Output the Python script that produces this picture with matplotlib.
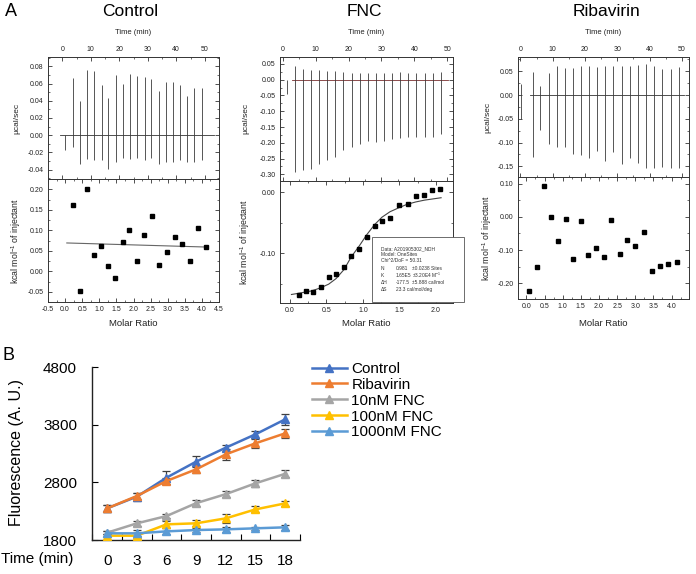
import numpy as np
import matplotlib
matplotlib.use("Agg")
import matplotlib.pyplot as plt
from matplotlib.ticker import AutoMinorLocator, MultipleLocator, FormatStrFormatter
from matplotlib.patches import Rectangle

plt.rcParams['font.family'] = ['Liberation Sans', 'DejaVu Sans']
plt.rcParams['axes.unicode_minus'] = False
plt.rcParams['mathtext.fontset'] = 'custom'
plt.rcParams['mathtext.rm'] = 'Liberation Sans'

# ---- panel A: raw ITC injections (time, peak up, peak down) ----
ctrl_t = [1.0, 3.7, 6.2, 8.8, 11.2, 13.8, 16.2, 18.8, 21.2, 23.8, 26.3, 28.9, 31.3, 33.9, 36.3, 38.8, 41.4, 43.8, 46.4, 48.9]
ctrl_up = [0.0, 0.067, 0.040, 0.076, 0.075, 0.058, 0.043, 0.070, 0.060, 0.071, 0.069, 0.068, 0.065, 0.051, 0.062, 0.062, 0.058, 0.046, 0.055, 0.055]
ctrl_down = [-0.017, -0.014, -0.033, -0.028, -0.029, -0.029, -0.039, -0.031, -0.027, -0.028, -0.027, -0.029, -0.027, -0.034, -0.031, -0.031, -0.029, -0.031, -0.031, -0.029]

fnc_t = [1.2, 3.85, 6.3, 8.7, 11.1, 13.6, 16.0, 18.4, 20.9, 23.4, 25.8, 28.2, 30.7, 33.2, 35.6, 38.1, 40.6, 43.1, 45.6, 48.2]
fnc_up = [0.0, 0.044, 0.035, 0.032, 0.030, 0.028, 0.027, 0.024, 0.022, 0.021, 0.021, 0.020, 0.020, 0.022, 0.024, 0.022, 0.022, 0.022, 0.022, 0.024]
fnc_down = [-0.044, -0.292, -0.287, -0.283, -0.267, -0.254, -0.246, -0.222, -0.212, -0.205, -0.195, -0.197, -0.193, -0.189, -0.184, -0.180, -0.182, -0.182, -0.182, -0.173]

rib_t = [0.3, 3.8, 6.2, 8.8, 11.4, 13.8, 16.3, 18.8, 21.3, 23.8, 26.2, 28.7, 31.3, 33.8, 36.3, 38.8, 41.4, 43.9, 46.5, 49.0]
rib_up = [0.023, 0.049, 0.019, 0.047, 0.061, 0.057, 0.056, 0.061, 0.062, 0.060, 0.062, 0.062, 0.062, 0.062, 0.063, 0.065, 0.062, 0.055, 0.054, 0.060]
rib_down = [-0.050, -0.131, -0.074, -0.102, -0.109, -0.109, -0.125, -0.126, -0.133, -0.117, -0.139, -0.120, -0.145, -0.133, -0.142, -0.153, -0.153, -0.152, -0.153, -0.153]

# ---- panel A: integrated heats ----
ctrl_x = [0.23, 0.43, 0.64, 0.84, 1.05, 1.25, 1.46, 1.68, 1.88, 2.10, 2.31, 2.54, 2.76, 2.97, 3.20, 3.43, 3.65, 3.90, 4.13]
ctrl_y = [0.162, -0.048, 0.200, 0.040, 0.061, 0.012, -0.017, 0.071, 0.101, 0.026, 0.089, 0.134, 0.015, 0.047, 0.084, 0.066, 0.024, 0.106, 0.060]
ctrl_fit_x = [0.05, 4.15]
ctrl_fit_y = [0.069, 0.059]

fnc_x = [0.12, 0.22, 0.32, 0.43, 0.53, 0.63, 0.74, 0.84, 0.95, 1.05, 1.16, 1.26, 1.37, 1.49, 1.61, 1.72, 1.84, 1.95, 2.06]
fnc_y = [-0.169, -0.163, -0.164, -0.155, -0.139, -0.135, -0.123, -0.104, -0.093, -0.073, -0.055, -0.048, -0.043, -0.021, -0.019, -0.0055, -0.004, 0.003, 0.006]
fnc_fit_x = [0.02, 0.12, 0.30, 0.42, 0.53, 0.63, 0.74, 0.84, 0.95, 1.05, 1.16, 1.26, 1.37, 1.50, 1.60, 1.72, 1.84, 2.07]
fnc_fit_y = [-0.168, -0.166, -0.162, -0.157, -0.151, -0.142, -0.127, -0.106, -0.088, -0.070, -0.053, -0.041, -0.032, -0.025, -0.020, -0.016, -0.013, -0.009]

rib_x = [0.08, 0.28, 0.48, 0.68, 0.87, 1.08, 1.29, 1.50, 1.70, 1.91, 2.13, 2.34, 2.57, 2.78, 3.00, 3.23, 3.46, 3.68, 3.91, 4.14]
rib_y = [-0.223, -0.150, 0.094, 0.0, -0.074, -0.007, -0.126, -0.011, -0.115, -0.093, -0.122, -0.010, -0.112, -0.069, -0.088, -0.047, -0.162, -0.147, -0.143, -0.135]

fit_info = [
    ("Data: A201905302_NDH", "", ""),
    ("Model: OneSites", "", ""),
    ("Chi^2/DoF = 50.31", "", ""),
    ("N", "0.981", "\u00b10.0238 Sites"),
    ("K", "1.65E5", "\u00b13.20E4 M$^{-1}$"),
    ("\u0394H", "-177.5", "\u00b15.888 cal/mol"),
    ("\u0394S", "23.3 cal/mol/deg", ""),
]

# ---- panel B ----
times_b = ['0', '3', '6', '9', '12', '15', '18']
series_b = ['Control', 'Ribavirin', '10nM FNC', '100nM FNC', '1000nM FNC']
control_b = [2350, 2553, 2883, 3161, 3404, 3636, 3896]
rib_b = [2350, 2564, 2825, 3028, 3288, 3480, 3653]
fnc10_b = [1927, 2089, 2216, 2440, 2597, 2785, 2950]
fnc100_b = [1875, 1875, 2072, 2090, 2176, 2332, 2436]
fnc1000_b = [1916, 1916, 1950, 1973, 1985, 2003, 2020]
control_err = [60, 70, 110, 90, 50, 60, 90]
rib_err = [60, 60, 60, 60, 90, 80, 80]
fnc10_err = [30, 40, 40, 50, 50, 60, 60]
fnc100_err = [30, 40, 60, 50, 80, 50, 50]
fnc1000_err = [40, 50, 50, 30, 40, 30, 40]
colors_b = ['#4472C4', '#ED7D31', '#A5A5A5', '#FFC000', '#5B9BD5']

W, H = 696, 574
fig = plt.figure(figsize=(6.96, 5.74), dpi=100)


def px_axes(x0, y0, x1, y1):
    return fig.add_axes([x0 / W, 1 - y1 / H, (x1 - x0) / W, (y1 - y0) / H])


def ftext(x, y, s, **kw):
    return fig.text(x / W, 1 - y / H, s, **kw)


def style_itc(ax, top):
    for sp in ax.spines.values():
        sp.set_color('#333333')
        sp.set_linewidth(0.7)
    ax.tick_params(which='both', direction='in', top=True, right=True,
                   bottom=True, left=True, labelsize=5, pad=3,
                   labelcolor='#222222', color='#333333')
    ax.tick_params(which='major', length=3, width=0.6)
    ax.tick_params(which='minor', length=1.6, width=0.5)
    if top:
        ax.tick_params(labeltop=True, labelbottom=False)
    ax.xaxis.set_minor_locator(AutoMinorLocator(2))
    ax.yaxis.set_minor_locator(AutoMinorLocator(2))


def raw_trace(ax, t, up, down, base_color):
    ax.axhline(0, xmin=0.07, xmax=0.97, color=base_color, lw=0.6)
    ax.vlines(t, down, up, color='#3a3a3a', lw=0.6)


panels = [
    dict(name='Control', cx=130, top=(48, 57, 219, 179), bot=(48, 179, 219, 302)),
    dict(name='FNC', cx=364, top=(280, 57, 453, 180.7), bot=(280, 180.7, 453, 303)),
    dict(name='Ribavirin', cx=606, top=(518, 57, 689, 177.3), bot=(518, 177.3, 689, 299)),
]

# Control
ax = px_axes(*panels[0]['top'])
raw_trace(ax, ctrl_t, ctrl_up, ctrl_down, '#333333')
ax.set_xlim(-5, 55)
ax.set_ylim(-0.051, 0.091)
ax.xaxis.set_major_locator(MultipleLocator(10))
ax.yaxis.set_major_locator(MultipleLocator(0.02))
ax.yaxis.set_major_formatter(FormatStrFormatter('%.2f'))
style_itc(ax, True)

ax = px_axes(*panels[0]['bot'])
ax.plot(ctrl_fit_x, ctrl_fit_y, color='#666666', lw=0.8)
ax.plot(ctrl_x, ctrl_y, 's', color='black', ms=3.2)
ax.set_xlim(-0.5, 4.5)
ax.set_ylim(-0.075, 0.225)
ax.xaxis.set_major_locator(MultipleLocator(0.5))
ax.yaxis.set_major_locator(MultipleLocator(0.05))
ax.xaxis.set_major_formatter(FormatStrFormatter('%.1f'))
ax.yaxis.set_major_formatter(FormatStrFormatter('%.2f'))
style_itc(ax, False)

# FNC
ax = px_axes(*panels[1]['top'])
raw_trace(ax, fnc_t, fnc_up, fnc_down, '#7a3030')
ax.set_xlim(-0.8, 51.7)
ax.set_ylim(-0.32, 0.072)
ax.xaxis.set_major_locator(MultipleLocator(10))
ax.yaxis.set_major_locator(MultipleLocator(0.05))
ax.yaxis.set_major_formatter(FormatStrFormatter('%.2f'))
style_itc(ax, True)

ax = px_axes(*panels[1]['bot'])
ax.plot(fnc_fit_x, fnc_fit_y, color='#444444', lw=0.8)
ax.plot(fnc_x, fnc_y, 's', color='black', ms=3.2)
ax.set_xlim(-0.137, 2.233)
ax.set_ylim(-0.182, 0.019)
ax.xaxis.set_major_locator(MultipleLocator(0.5))
ax.yaxis.set_major_locator(MultipleLocator(0.1))
ax.xaxis.set_major_formatter(FormatStrFormatter('%.1f'))
ax.yaxis.set_major_formatter(FormatStrFormatter('%.2f'))
style_itc(ax, False)

# Ribavirin
ax = px_axes(*panels[2]['top'])
raw_trace(ax, rib_t, rib_up, rib_down, '#333333')
ax.set_xlim(-0.75, 52.2)
ax.set_ylim(-0.173, 0.080)
ax.xaxis.set_major_locator(MultipleLocator(10))
ax.yaxis.set_major_locator(MultipleLocator(0.05))
ax.yaxis.set_major_formatter(FormatStrFormatter('%.2f'))
style_itc(ax, True)

ax = px_axes(*panels[2]['bot'])
ax.plot(rib_x, rib_y, 's', color='black', ms=3.2)
ax.set_xlim(-0.23, 4.48)
ax.set_ylim(-0.247, 0.119)
ax.xaxis.set_major_locator(MultipleLocator(0.5))
ax.yaxis.set_major_locator(MultipleLocator(0.1))
ax.xaxis.set_major_formatter(FormatStrFormatter('%.1f'))
ax.yaxis.set_major_formatter(FormatStrFormatter('%.2f'))
style_itc(ax, False)

# panel A texts
ftext(11, 11, 'A', fontsize=13, ha='center', va='center')
for p, ylab_x in zip(panels, [17, 246, 488]):
    ftext(p['cx'], 11, p['name'], fontsize=12.5, ha='center', va='center')
    x0, y0, x1, y1 = p['top']
    ftext((x0 + x1) / 2, 33, 'Time (min)', fontsize=5.5, ha='center', va='center', color='#222222')
    ftext(ylab_x, (y0 + y1) / 2, '\u00b5cal/sec', fontsize=6, ha='center', va='center',
          rotation=90, color='#222222')
    bx0, by0, bx1, by1 = p['bot']
    ftext(ylab_x - 1, (by0 + by1) / 2, 'kcal mol$^{-1}$ of injectant', fontsize=6.3,
          ha='center', va='center', rotation=90, color='#222222')
    ftext((bx0 + bx1) / 2, 324, 'Molar Ratio', fontsize=6.8, ha='center', va='center',
          color='#222222')

# FNC fit info box
fig.patches.append(Rectangle((371.7 / W, 1 - 302.3 / H), 92.6 / W, 65 / H,
                             transform=fig.transFigure, facecolor='white',
                             edgecolor='#555555', lw=0.6, zorder=5))
for (a, b, c), yy in zip(fit_info, [248.7, 254.7, 260.5, 268.3, 275.6, 282.7, 289.7]):
    kw = dict(fontsize=3.5, va='center', ha='left', color='#333333', zorder=6)
    ftext(381, yy, a, **kw)
    if b:
        ftext(395.7, yy, b, **kw)
    if c:
        ftext(412.5, yy, c, **kw)

# ---- panel B ----
axb = px_axes(92.3, 367.3, 300, 540)
xpos = np.arange(len(times_b))
b_vals = [control_b, rib_b, fnc10_b, fnc100_b, fnc1000_b]
b_errs = [control_err, rib_err, fnc10_err, fnc100_err, fnc1000_err]
handles = []
for vals, errs, col, name in zip(b_vals, b_errs, colors_b, series_b):
    axb.errorbar(xpos, vals, yerr=errs, fmt='none', ecolor='#404040',
                 elinewidth=0.9, capsize=3, capthick=0.9, zorder=2)
    ln, = axb.plot(xpos, vals, '-^', color=col, lw=1.8, ms=6, zorder=3, label=name)
    handles.append(ln)
axb.set_xlim(-0.5, 6.5)
axb.set_ylim(1800, 4800)
axb.set_yticks([1800, 2800, 3800, 4800])
axb.set_xticks(np.arange(-0.5, 7, 1))
axb.set_xticklabels([])
axb.set_xticks(xpos, minor=True)
axb.set_xticklabels(times_b, minor=True)
for s in ['top', 'right']:
    axb.spines[s].set_visible(False)
for s in ['left', 'bottom']:
    axb.spines[s].set_color('#222222')
    axb.spines[s].set_linewidth(1.0)
axb.tick_params(axis='y', direction='in', length=4, labelsize=11, pad=11)
axb.tick_params(axis='x', which='major', direction='in', length=4)
axb.tick_params(axis='x', which='minor', length=0, labelsize=11, pad=10)

ftext(8, 356, 'B', fontsize=13, ha='center', va='center')
ftext(1, 559, 'Time (min)', fontsize=11, ha='left', va='center')
ftext(17, 453, 'Fluorescence (A. U.)', fontsize=11.5, ha='center', va='center', rotation=90)

fig.legend(handles=handles, loc='upper left',
           bbox_to_anchor=(311.7 / W, 1 - 362 / H), frameon=False,
           fontsize=11, handlelength=2.3, handletextpad=0.3,
           labelspacing=0.12, borderpad=0, borderaxespad=0, markerscale=0.85)

fig.savefig('out.png', dpi=100)
